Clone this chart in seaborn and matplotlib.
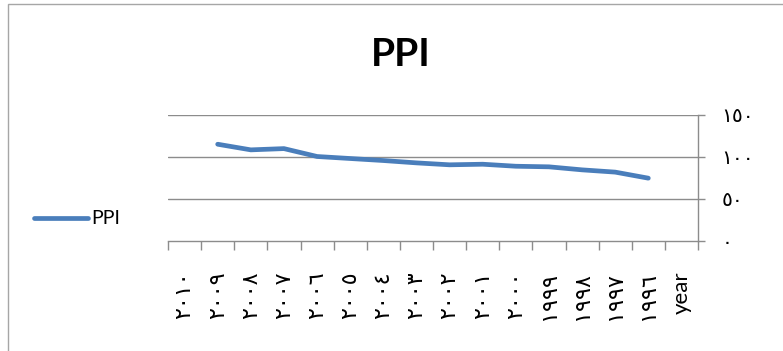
import numpy as np
import pandas as pd
import matplotlib
matplotlib.use("Agg")
import matplotlib.pyplot as plt
from matplotlib.patches import Rectangle
import seaborn as sns

# Categories run right-to-left in time, as in the source workbook
categories = ["٢٠١٠", "٢٠٠٩", "٢٠٠٨", "٢٠٠٧", "٢٠٠٦", "٢٠٠٥", "٢٠٠٤", "٢٠٠٣",
              "٢٠٠٢", "٢٠٠١", "٢٠٠٠", "١٩٩٩", "١٩٩٨", "١٩٩٧", "١٩٩٦", "year"]
ppi = [np.nan, 115.2, 108.5, 110.0, 100.6, 98.2, 95.8, 93.0,
       90.7, 91.4, 89.0, 88.3, 84.7, 82.0, 74.8, np.nan]
y_ticks = [0, 50, 100, 150]
y_tick_labels = ["٠", "٥٠", "١٠٠", "١٥٠"]

sns.set_style("white")
plt.rcParams["font.family"] = ["Lato", "DejaVu Sans"]
plt.rcParams["text.color"] = "black"
plt.rcParams["xtick.color"] = "black"
plt.rcParams["ytick.color"] = "black"

W, H = 783, 351
fig = plt.figure(figsize=(W / 100, H / 100), dpi=100)

# outer chart border
fig.patches.append(Rectangle((8 / W, -0.1), 1.2, 1 - 4 / H + 0.1, transform=fig.transFigure,
                             fill=False, edgecolor="#a6a6a6", linewidth=1.0))

ax = fig.add_axes([168 / W, 1 - 241 / H, (698 - 168) / W, (241 - 115) / H])

df = pd.DataFrame({"pos": np.arange(len(categories)), "PPI": ppi})
sns.lineplot(data=df, x="pos", y="PPI", ax=ax, color="#4a7ebb", linewidth=3.4,
             label="PPI", legend=False, solid_capstyle="round")

grid_c = "#8c8c8c"
ax.set_xlim(-0.5, len(categories) - 0.5)
ax.set_ylim(0, 150)

# y axis on the right
ax.yaxis.tick_right()
ax.set_yticks(y_ticks)
ax.set_yticklabels(y_tick_labels, fontsize=14.5, family=["DejaVu Sans"])
ax.tick_params(axis="y", right=True, left=False, direction="out", length=5, width=1,
               color=grid_c, labelcolor="black", pad=12)
for v in y_ticks[1:]:
    ax.axhline(v, color=grid_c, linewidth=1.0, zorder=0)

# category labels at centres, tick marks between categories
ax.set_xticks(np.arange(len(categories)))
ax.set_xticklabels(categories, rotation=90, fontsize=16, va="top")
ax.set_xticks(np.arange(len(categories) + 1) - 0.5, minor=True)
ax.tick_params(axis="x", which="major", bottom=True, length=0, pad=22, labelcolor="black")
ax.tick_params(axis="x", which="minor", bottom=True, direction="out", length=6.5, width=1,
               color=grid_c)
ax.set_xlabel("")
ax.set_ylabel("")

for side in ["top", "left"]:
    ax.spines[side].set_visible(False)
for side in ["right", "bottom"]:
    ax.spines[side].set_color(grid_c)
    ax.spines[side].set_linewidth(1.0)

fig.text(401 / W, 1 - 55 / H, "PPI", ha="center", va="center", color="black",
         fontsize=28, fontweight="bold", family=["Lato"])

handles, labels = ax.get_legend_handles_labels()
leg = fig.legend(handles, labels, loc="center left", bbox_to_anchor=(34 / W, 1 - 219 / H),
                 frameon=False, fontsize=14, handlelength=2.8, handletextpad=0.15,
                 borderpad=0, borderaxespad=0)
for t in leg.get_texts():
    t.set_color("black")

fig.savefig("out.png", dpi=100)
